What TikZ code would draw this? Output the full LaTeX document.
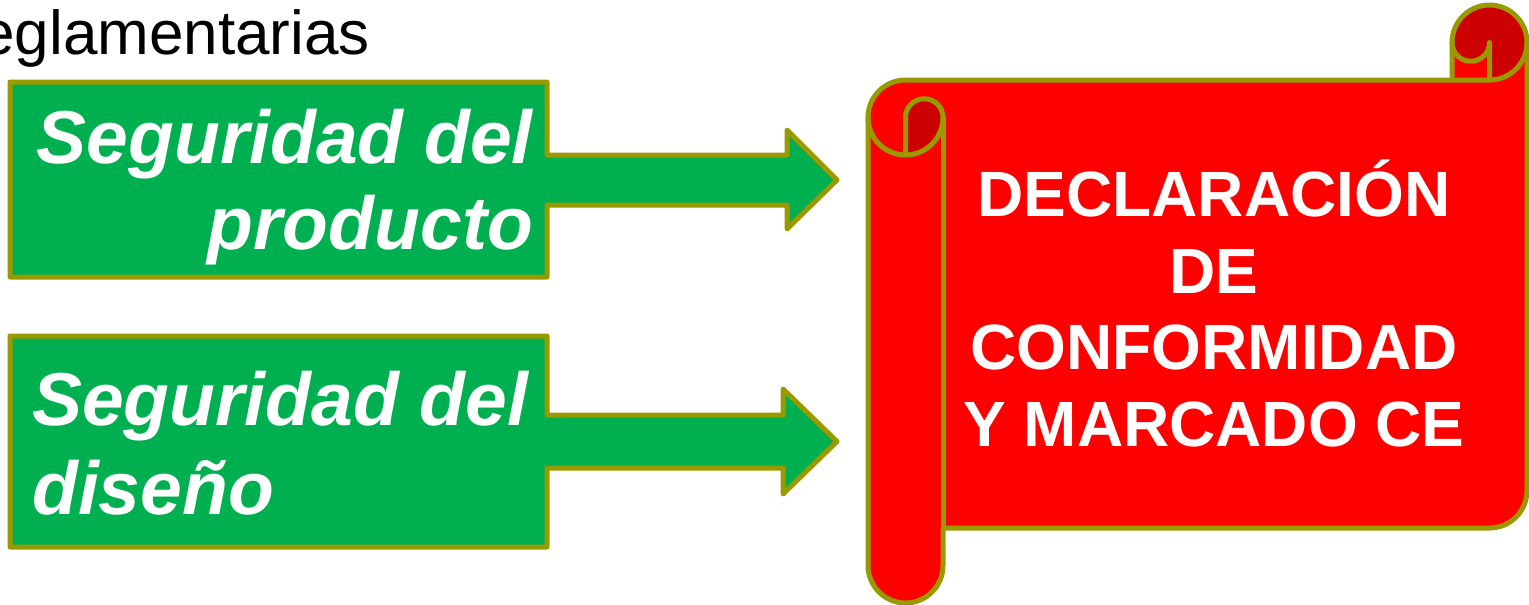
\documentclass[tikz,border=0pt]{standalone}
\usepackage{fontspec}
\setmainfont{Liberation Sans}
\definecolor{olivebd}{HTML}{999900}
\definecolor{boxgreen}{HTML}{00B050}
\definecolor{scrollred}{HTML}{FF0000}
\definecolor{rolldark}{HTML}{CC0000}
\begin{document}
\begin{tikzpicture}[x=1pt,y=1pt,
  outl/.style={draw=olivebd, line width=5pt, line join=round, line cap=round},
  gtext/.style={text=white, font=\fontsize{75}{75}\selectfont\bfseries\itshape, inner sep=0pt},
  rtext/.style={text=white, font=\fontsize{64}{64}\selectfont\bfseries, inner sep=0pt, anchor=base},
  ttext/.style={text=black, font=\fontsize{62}{62}\selectfont, inner sep=0pt, anchor=base east}
 ]
\useasboundingbox (0,-605) rectangle (1529,0);

% title fragment
\node[ttext] (title) at (370,-54) {eglamentarias};

% green callout 1
\path[outl, fill=boxgreen] (10,-82) -- (547,-82) -- (547,-155) -- (787,-155) -- (787,-130)
  -- (837,-180) -- (787,-229) -- (787,-205) -- (547,-205) -- (547,-277) -- (10,-277) -- cycle;
\node[gtext, anchor=base east] (p1) at (533,-163) {Seguridad del};
\node[gtext, anchor=base east] (p2) at (533,-249) {producto};

% green callout 2
\path[outl, fill=boxgreen] (10,-336) -- (547,-336) -- (547,-415) -- (783,-415) -- (783,-389)
  -- (837,-441.5) -- (783,-494) -- (783,-468) -- (547,-468) -- (547,-547) -- (10,-547) -- cycle;
\node[gtext, anchor=base west] (d1) at (32,-425) {Seguridad del};
\node[gtext, anchor=base west] (d2) at (32,-514) {diseño};

% scroll
\def\scrollpath{(1527,-42.5) -- (1527,-490.5) arc[start angle=0,end angle=-90,radius=37.5]
  -- (943,-528) -- (943,-565.5) arc[start angle=0,end angle=-180,radius=37.5]
  -- (868,-117.5) arc[start angle=180,end angle=90,radius=37.5]
  -- (1452,-80) -- (1452,-42.5) arc[start angle=180,end angle=0,radius=37.5] -- cycle}
\fill[scrollred] \scrollpath;
\fill[rolldark] (1452,-42.5) arc[start angle=180,end angle=0,radius=37.5]
  arc[start angle=0,end angle=-90,radius=37.5] -- (1489.5,-42.5)
  arc[start angle=0,end angle=-180,radius=18.75] -- cycle;
\fill[rolldark] (905.5,-117.5) arc[start angle=180,end angle=0,radius=18.75]
  arc[start angle=0,end angle=-90,radius=37.5] -- cycle;
\draw[outl] \scrollpath;
\draw[outl] (1452,-80) -- (1489.5,-80) arc[start angle=-90,end angle=0,radius=37.5];
\draw[outl] (1489.5,-80) -- (1489.5,-42.5) arc[start angle=0,end angle=-180,radius=18.75];
\draw[outl] (905.5,-155) -- (905.5,-117.5) arc[start angle=180,end angle=0,radius=18.75]
  arc[start angle=0,end angle=-180,radius=37.5];
\draw[outl] (943,-117.5) -- (943,-528);

% scroll text
\node[rtext] (r1) at (1214,-216) {DECLARACIÓN};
\node[rtext] (r2) at (1214,-293) {DE};
\node[rtext] (r3) at (1214,-369) {CONFORMIDAD};
\node[rtext] (r4) at (1214,-446) {Y MARCADO CE};
\end{tikzpicture}
\end{document}
